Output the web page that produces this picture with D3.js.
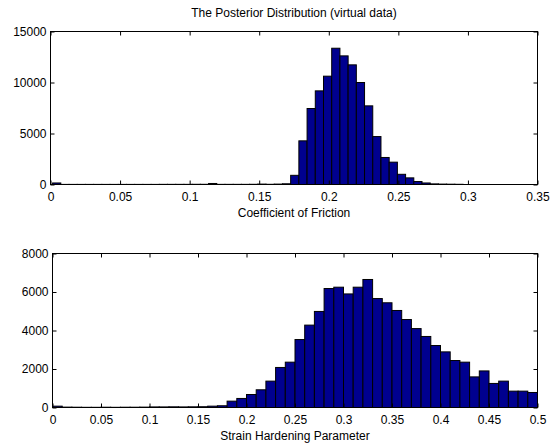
<!DOCTYPE html>
<html>
<head>
<meta charset="utf-8">
<script src="https://cdn.jsdelivr.net/npm/d3@7"></script>
<style>
  body { margin: 0; background: #fff; }
  svg text { font-family: "Liberation Sans", Arial, sans-serif; font-size: 12px; fill: #000; }
</style>
</head>
<body>
<svg id="chart" width="550" height="448"></svg>
<script>
// ---- data ----
// top histogram: lower edge of each bin and bin counts
const frictionEdges = [
  0.0015, 0.0074, 0.0133, 0.0192, 0.0251, 0.0310, 0.0369, 0.0428, 0.0487, 0.0546,
  0.0605, 0.0664, 0.0723, 0.0782, 0.0841, 0.0900, 0.0959, 0.1018, 0.1077, 0.1136,
  0.1195, 0.1254, 0.1313, 0.1372, 0.1431, 0.1490, 0.1549, 0.1608, 0.1667, 0.1726,
  0.1785, 0.1844, 0.1903, 0.1962, 0.2021, 0.2080, 0.2139, 0.2198, 0.2257, 0.2316,
  0.2375, 0.2434, 0.2493, 0.2552, 0.2611, 0.2670, 0.2729, 0.2788, 0.2847, 0.2906
];
const frictionBinWidth = 0.0059;
const frictionCounts = [
  150, 10, 10, 10, 10, 10, 10, 10, 10, 10,
  10, 10, 10, 15, 15, 15, 15, 20, 20, 100,
  15, 15, 15, 15, 20, 40, 20, 40, 70, 900,
  4280, 7450, 9180, 10620, 13360, 12610, 11730, 10000, 7710, 4700,
  2650, 2190, 1000, 650, 290, 150, 60, 40, 30, 20
];

// bottom histogram
const hardeningEdges = [
  0.00, 0.01, 0.02, 0.03, 0.04, 0.05, 0.06, 0.07, 0.08, 0.09,
  0.10, 0.11, 0.12, 0.13, 0.14, 0.15, 0.16, 0.17, 0.18, 0.19,
  0.20, 0.21, 0.22, 0.23, 0.24, 0.25, 0.26, 0.27, 0.28, 0.29,
  0.30, 0.31, 0.32, 0.33, 0.34, 0.35, 0.36, 0.37, 0.38, 0.39,
  0.40, 0.41, 0.42, 0.43, 0.44, 0.45, 0.46, 0.47, 0.48, 0.49
];
const hardeningBinWidth = 0.01;
const hardeningCounts = [
  70, 20, 15, 10, 10, 15, 10, 15, 15, 20,
  30, 30, 35, 30, 35, 40, 70, 90, 330, 470,
  675, 920, 1370, 2080, 2355, 3530, 4280, 4990, 6180, 6250,
  5900, 6250, 6650, 5660, 5440, 5040, 4570, 4100, 3690, 3220,
  2890, 2440, 2355, 1590, 1900, 1250, 1370, 850, 850, 780
];

const frictionXTicks = [0, 0.05, 0.1, 0.15, 0.2, 0.25, 0.3, 0.35];
const frictionYTicks = [0, 5000, 10000, 15000];
const hardeningXTicks = [0, 0.05, 0.1, 0.15, 0.2, 0.25, 0.3, 0.35, 0.4, 0.45, 0.5];
const hardeningYTicks = [0, 2000, 4000, 6000, 8000];

const svg = d3.select('#chart');

// one histogram panel, matlab style (box, ticks pointing in)
function makePanel(opt) {
  let xScale = d3.scaleLinear().domain(opt.xDomain).range([opt.left, opt.right]);
  let yScale = d3.scaleLinear().domain(opt.yDomain).range([opt.bottom, opt.top]);

  let bins = opt.edges.map((e, i) => ({ x0: e, x1: e + opt.binWidth, n: opt.counts[i] }));

  let g = svg.append('g');

  g.append('clipPath').attr('id', opt.id + '-clip')
    .append('rect')
    .attr('x', opt.left).attr('y', opt.top - 1)
    .attr('width', opt.right - opt.left).attr('height', opt.bottom - opt.top + 2);

  g.append('g')
    .attr('clip-path', `url(#${opt.id}-clip)`)
    .selectAll('rect')
    .data(bins)
    .enter()
    .append('rect')
    .attr('x', (d) => xScale(d.x0))
    .attr('y', (d) => yScale(d.n))
    .attr('width', (d) => xScale(d.x1) - xScale(d.x0))
    .attr('height', (d) => yScale(0) - yScale(d.n))
    .attr('fill', '#00008f')
    .attr('stroke', '#000')
    .attr('stroke-width', 1);

  // axes: tick marks inward on all four sides
  let tickIn = 4;
  g.append('g')
    .attr('transform', `translate(0, ${opt.bottom})`)
    .call(d3.axisBottom(xScale).tickValues(opt.xTicks).tickSize(-tickIn).tickPadding(8).tickFormat(d3.format('')))
    .call((a) => a.select('.domain').remove());
  g.append('g')
    .attr('transform', `translate(0, ${opt.top})`)
    .call(d3.axisTop(xScale).tickValues(opt.xTicks).tickSize(-tickIn).tickFormat(''))
    .call((a) => a.select('.domain').remove());
  g.append('g')
    .attr('transform', `translate(${opt.left}, 0)`)
    .call(d3.axisLeft(yScale).tickValues(opt.yTicks).tickSize(-tickIn).tickPadding(4).tickFormat(d3.format('')))
    .call((a) => a.select('.domain').remove());
  g.append('g')
    .attr('transform', `translate(${opt.right}, 0)`)
    .call(d3.axisRight(yScale).tickValues(opt.yTicks).tickSize(-tickIn).tickFormat(''))
    .call((a) => a.select('.domain').remove());

  g.selectAll('.tick line').attr('stroke', '#000');
  g.selectAll('.tick text').style('font-size', '12px').attr('fill', '#000');

  g.append('rect')
    .attr('x', opt.left).attr('y', opt.top)
    .attr('width', opt.right - opt.left).attr('height', opt.bottom - opt.top)
    .attr('fill', 'none').attr('stroke', '#000').attr('stroke-width', 1);

  g.append('text')
    .attr('x', (opt.left + opt.right) / 2)
    .attr('y', opt.bottom + 32)
    .style('text-anchor', 'middle')
    .text(opt.xLabel);

  return g;
}

makePanel({
  id: 'top', left: 50.5, right: 537.5, top: 31.5, bottom: 184.5,
  xDomain: [0, 0.35], yDomain: [0, 15000],
  edges: frictionEdges, binWidth: frictionBinWidth, counts: frictionCounts,
  xTicks: frictionXTicks, yTicks: frictionYTicks,
  xLabel: 'Coefficient of Friction'
});

makePanel({
  id: 'bot', left: 52.5, right: 537.5, top: 253.5, bottom: 407.5,
  xDomain: [0, 0.5], yDomain: [0, 8000],
  edges: hardeningEdges, binWidth: hardeningBinWidth, counts: hardeningCounts,
  xTicks: hardeningXTicks, yTicks: hardeningYTicks,
  xLabel: 'Strain Hardening Parameter'
});

// title
svg.append('text')
  .attr('x', 294)
  .attr('y', 17)
  .style('text-anchor', 'middle')
  .text('The Posterior Distribution (virtual data)');
</script>
</body>
</html>
